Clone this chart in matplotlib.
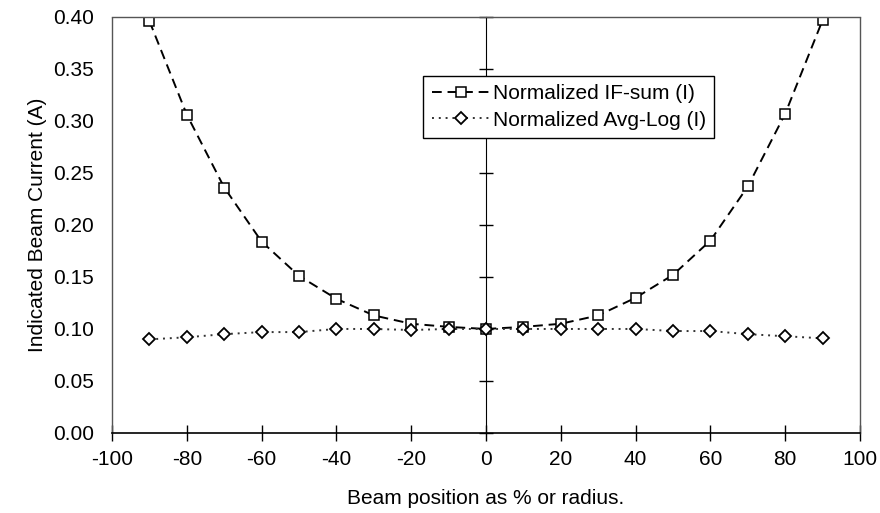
"""Indicated beam current vs beam position: IF-sum and Avg-Log normalisation."""

import matplotlib
matplotlib.use("Agg")
import matplotlib.pyplot as plt

plt.rcParams["font.family"] = ["Liberation Sans", "DejaVu Sans"]
plt.rcParams["axes.unicode_minus"] = False

positions = [-90, -80, -70, -60, -50, -40, -30, -20, -10, 0,
             10, 20, 30, 40, 50, 60, 70, 80, 90]
if_sum = [0.396, 0.306, 0.236, 0.184, 0.151, 0.129, 0.113, 0.105, 0.102, 0.100,
          0.102, 0.105, 0.113, 0.130, 0.152, 0.185, 0.237, 0.307, 0.397]
avg_log = [0.090, 0.092, 0.095, 0.097, 0.097, 0.100, 0.100, 0.099, 0.100, 0.100,
           0.100, 0.100, 0.100, 0.100, 0.098, 0.098, 0.095, 0.093, 0.091]

x_ticks = list(range(-100, 101, 20))
y_ticks = [0.00, 0.05, 0.10, 0.15, 0.20, 0.25, 0.30, 0.35, 0.40]

FS = 15

fig = plt.figure(figsize=(8.8, 5.13), dpi=100)
ax = fig.add_axes([0.1273, 0.156, 0.85, 0.811])

ax.plot(positions, if_sum, color="black", linestyle=(0, (5, 3)), linewidth=1.4,
        marker="s", markersize=6.5, markerfacecolor="white",
        markeredgecolor="black", markeredgewidth=1.1,
        label="Normalized IF-sum (I)")
ax.plot(positions, avg_log, color="#333333", linestyle=(0, (1, 2.5)), linewidth=1.4,
        marker="D", markersize=6, markerfacecolor="white",
        markeredgecolor="black", markeredgewidth=1.3,
        label="Normalized Avg-Log (I)")

ax.set_xlim(-100, 100)
ax.set_ylim(0, 0.40)
ax.set_xticks(x_ticks)
ax.set_yticks(y_ticks)
ax.set_yticklabels([f"{v:.2f}" for v in y_ticks])

# plot area frame is dotted, the x axis is solid
for side in ("left", "top", "right"):
    ax.spines[side].set_linestyle((0, (1, 1)))
    ax.spines[side].set_color("#555555")
    ax.spines[side].set_linewidth(1.0)
ax.spines["bottom"].set_linewidth(1.2)

ax.tick_params(axis="x", direction="inout", length=11, width=1.0,
               labelsize=FS, pad=7)
ax.tick_params(axis="y", length=0, labelsize=FS, pad=13)

# y axis crossing at x = 0
center = ax.secondary_yaxis(0.5)
center.set_yticks(y_ticks)
center.tick_params(direction="inout", length=10, width=1.0, labelleft=False,
                   labelright=False)
center.spines["left"].set_linewidth(1.3)

ax.set_xlabel("Beam position as % or radius.", fontsize=FS, labelpad=14)
ax.set_ylabel("Indicated Beam Current (A)", fontsize=FS, labelpad=4)

leg = ax.legend(loc="upper left", bbox_to_anchor=(0.416, 0.858), fontsize=FS,
                frameon=True, fancybox=False, framealpha=1, edgecolor="black",
                handlelength=2.8, handletextpad=0.15, borderpad=0.4,
                labelspacing=0.35, borderaxespad=0)
leg.get_frame().set_linewidth(1.0)

fig.savefig("out.png", dpi=100)
